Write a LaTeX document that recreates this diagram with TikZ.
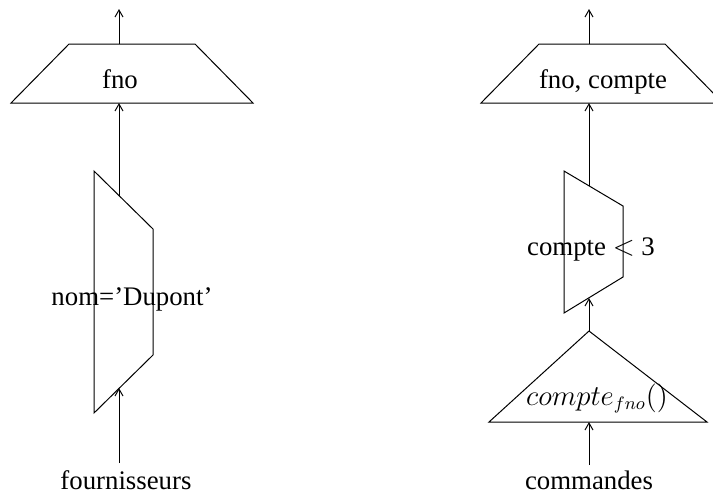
\documentclass[tikz,border=0pt]{standalone}
\usepackage{fontspec}
\setmainfont{Liberation Serif}
\usetikzlibrary{arrows.meta}

\begin{document}
\begin{tikzpicture}[x=0.5pt,y=-0.5pt,>={Straight Barb[length=3.5pt,width=4pt]},every node/.style={inner sep=0pt,anchor=base,font=\fontsize{13.4}{16}\selectfont},op/.style={draw,line width=0.5pt},flow/.style={->,line width=0.5pt}]
\useasboundingbox (0,0) rectangle (713,495);
\clip (0,0) rectangle (713,495);

% plan de gauche
\draw[op] (69,44) -- (195,44) -- (253,103) -- (11,103) -- cycle;
\draw[op] (94,171) -- (153,229) -- (153,355) -- (94,413) -- cycle;
\node (fno)    at (120,88)  {fno};
\node (nom)    at (132,305) {nom='Dupont'};
\node (fourn)  at (126,489) {fournisseurs};
\coordinate (l-src)  at (119,463);
\coordinate (sl-in)  at (119,388);
\coordinate (sl-out) at (119,196);
\coordinate (pl-in)  at (119,103);
\coordinate (pl-out) at (119,44);
\coordinate (l-res)  at (119,9);

\path[flow] (l-src) edge (sl-in)
	(sl-out) edge (pl-in)
	(pl-out) edge (l-res);

% plan de droite
\draw[op] (539,44) -- (665,44) -- (723,103) -- (481,103) -- cycle;
\draw[op] (564,171) -- (623,206) -- (623,277) -- (564,313) -- cycle;
\draw[op] (589,331) -- (707,422) -- (489,422) -- cycle;
\node (fnoc)   at (603,88)  {fno, compte};
\node (cpt)    at (591,255) {compte $<$ 3};
\node (agg)    at (597,405) {$compte_{fno}()$};
\node (cmd)    at (589,489) {commandes};
\coordinate (r-src)  at (589,465);
\coordinate (ag-in)  at (589,422);
\coordinate (ag-out) at (589,331);
\coordinate (sr-in)  at (589,298);
\coordinate (sr-out) at (589,186);
\coordinate (pr-in)  at (589,103);
\coordinate (pr-out) at (589,44);
\coordinate (r-res)  at (589,9);

\path[flow] (r-src) edge (ag-in)
	(ag-out) edge (sr-in)
	(sr-out) edge (pr-in)
	(pr-out) edge (r-res);

\end{tikzpicture}
\end{document}
